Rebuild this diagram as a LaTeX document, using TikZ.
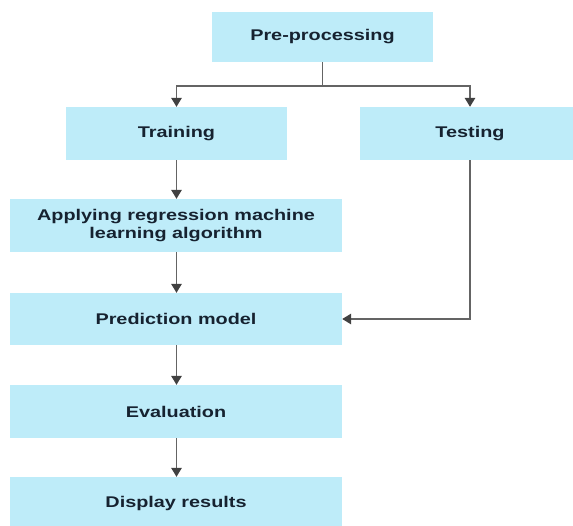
\documentclass[tikz,border=0pt]{standalone}
\usepackage{fontspec}
\setmainfont{Liberation Sans}
\newfontfamily\boxfont{Liberation Sans}[FakeStretch=1.28]
\usetikzlibrary{arrows.meta}
\definecolor{boxfill}{RGB}{190,236,249}
\definecolor{boxtext}{RGB}{22,34,48}
\definecolor{linegrey}{RGB}{100,100,100}
\definecolor{tipgrey}{RGB}{65,65,65}
\begin{document}
\begin{tikzpicture}[x=1pt,y=-1pt,
  stepbox/.style={rectangle, fill=boxfill, draw=none, inner sep=0pt,
    text=boxtext, align=center,
    font=\boxfont\bfseries\fontsize{15.5pt}{17.5pt}\selectfont},
  small/.style={stepbox, minimum width=221pt, minimum height=52pt},
  wide/.style={stepbox, minimum width=332pt, minimum height=53pt},
  conn/.style={draw=linegrey, line width=1.5pt,
    -{Triangle[length=9pt,width=10.5pt,color=tipgrey]}},
  plain/.style={draw=linegrey, line width=1.5pt}
]
\useasboundingbox (0,0) rectangle (573,525);
\clip (0,0) rectangle (573,525);
\fill[white] (0,0) rectangle (573,525);

\node[small, minimum height=50pt] (pre) at (322.5,37) {Pre-processing};
\node[small, minimum height=53pt] (train) at (176.5,133.5) {Training};
\node[small, minimum height=53pt] (test) at (470,133.5) {Testing};
\node[wide] (apply) at (176,225.5) {Applying regression machine\\learning algorithm};
\node[wide, minimum height=52pt] (pred) at (176,319) {Prediction model};
\node[wide] (eval) at (176,411.5) {Evaluation};
\node[wide] (disp) at (176,503.5) {Display results};

\coordinate (j) at (pre.south |- 0,86);
\draw[plain] (pre.south) -- (j);
\draw[conn] (j) -| (train.north);
\draw[conn] (j) -| (test.north);
\draw[conn] (train.south) -- (train.south |- apply.north);
\draw[conn] (apply.south -| train.south) -- (train.south |- pred.north);
\draw[conn] (test.south) |- (pred.east);
\draw[conn] (pred.south -| train.south) -- (train.south |- eval.north);
\draw[conn] (eval.south -| train.south) -- (train.south |- disp.north);
\end{tikzpicture}
\end{document}
